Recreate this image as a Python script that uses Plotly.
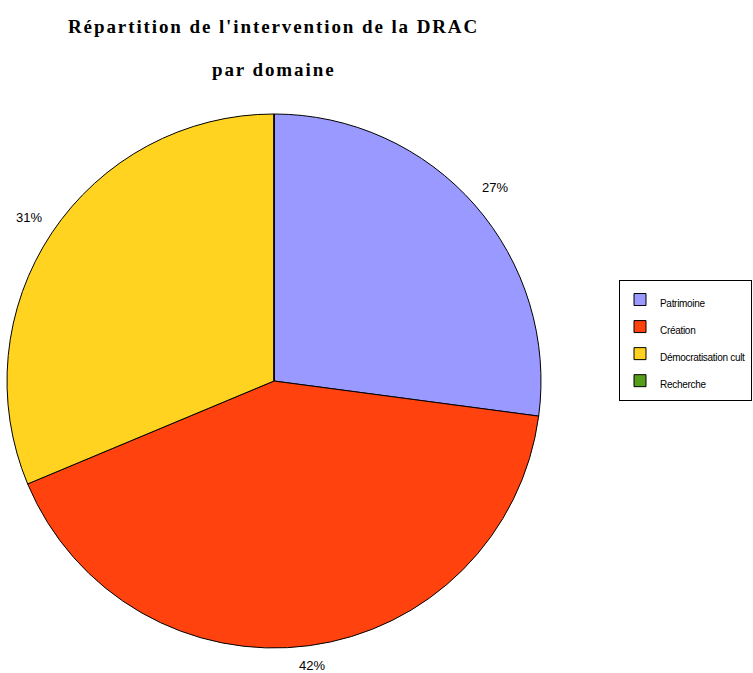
import math
import plotly.graph_objects as go

labels = ["Patrimoine", "Création", "Démocratisation cult", "Recherche"]
values = [27.1, 41.6, 31.3, 0]
colors = ["#9999FF", "#FF420E", "#FFD320", "#579D1C"]
title_lines = ["Répartition de l'intervention de la DRAC", "par domaine"]

W, H = 753, 673
CX, CY, R = 274, 381, 267  # pie centre / radius in pixels
GAP, TW, TH = 14, 26, 9    # label gap and approx label box size

fig = go.Figure(go.Pie(
    labels=[f'<span style="font-size:10px;letter-spacing:-0.3px">{l}</span>' for l in labels],
    values=values,
    sort=False,
    direction="clockwise",
    rotation=0,
    marker=dict(colors=colors, line=dict(color="#000000", width=1)),
    textposition="none",
    domain=dict(x=[(CX - R) / W, (CX + R) / W], y=[1 - (CY + R) / H, 1 - (CY - R) / H]),
    hoverinfo="label+percent",
))

# percentage labels outside each slice, placed from the data
total = sum(values)
cum = 0
for v in values:
    if v > 0:
        mid = (cum + v / 2) / total * 2 * math.pi
        s, c = math.sin(mid), math.cos(mid)
        d = R + GAP + abs(s) * TW / 2 + abs(c) * TH / 2
        px = CX + d * s
        py = CY - d * c
        fig.add_annotation(text=f"{round(v / total * 100)}%", x=px / W, y=1 - py / H,
                           xref="paper", yref="paper", showarrow=False,
                           xanchor="center", yanchor="middle",
                           font=dict(family="Liberation Sans, Arial", size=13, color="#000000"))
    cum += v

for txt, ty in zip(title_lines, [27, 70]):
    fig.add_annotation(text=f'<b><span style="letter-spacing:1.9px">{txt}</span></b>',
                       x=273 / W, y=1 - ty / H,
                       xref="paper", yref="paper", showarrow=False, xanchor="center", yanchor="middle",
                       font=dict(family="Liberation Serif, Times New Roman", size=19, color="#000000"))

fig.update_layout(
    width=W, height=H,
    margin=dict(l=0, r=0, t=0, b=0),
    paper_bgcolor="white", plot_bgcolor="white",
    showlegend=True,
    legend=dict(x=619 / W, y=1 - 280 / H, xanchor="left", yanchor="top",
                bordercolor="#000000", borderwidth=1, bgcolor="white",
                font=dict(family="Liberation Sans, Arial", size=18.5, color="#000000"),
                traceorder="normal"),
)

fig.write_html("out.html", config={"displayModeBar": False},
               post_script="document.body.style.margin='0';")
